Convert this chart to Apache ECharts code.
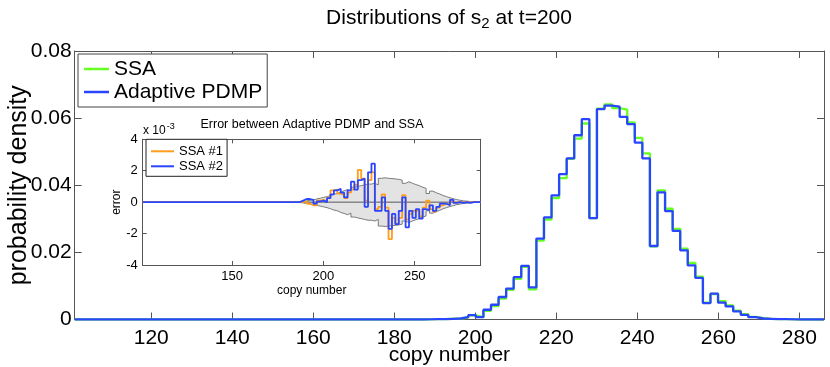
<!DOCTYPE html>
<html><head><meta charset="utf-8">
<script src="https://cdn.jsdelivr.net/npm/echarts@6/dist/echarts.min.js"></script>
<style>html,body{margin:0;padding:0;background:#fff}#c{width:830px;height:367px}</style>
</head><body><div id="c"></div>
<script>
// bin positions (copy number), 100 histogram bins
const copyNumbers = [101.10,102.97,104.84,106.71,108.57,110.44,112.31,114.18,116.05,117.92,
119.79,121.66,123.52,125.39,127.26,129.13,131.00,132.87,134.74,136.61,
138.47,140.34,142.21,144.08,145.95,147.82,149.69,151.55,153.42,155.29,
157.16,159.03,160.90,162.77,164.64,166.50,168.37,170.24,172.11,173.98,
175.85,177.72,179.59,181.45,183.32,185.19,187.06,188.93,190.80,192.67,
194.54,196.40,198.27,200.14,202.01,203.88,205.75,207.62,209.48,211.35,
213.22,215.09,216.96,218.83,220.70,222.57,224.43,226.30,228.17,230.04,
231.91,233.78,235.65,237.52,239.38,241.25,243.12,244.99,246.86,248.73,
250.60,252.46,254.33,256.20,258.07,259.94,261.81,263.68,265.55,267.41,
269.28,271.15,273.02,274.89,276.76,278.63,280.49,282.36,284.23,286.10];

const ssaDensity = [0,0,0,0,0,0,0,0,0,0, 0,0,0,0,0,0,0,0,0,0,
0,0,0,0,0,0,0,0,0,0, 0,0,0,0,0,0,0,0,0,0,
0,0,0,0,0,0,0.00005,0.0001,0.0001,0.0002,
0.0003,0.0006,0.0012,0.0007,0.0026,0.0040,0.0062,0.0088,0.0121,0.0157,
0.0090,0.0235,0.0298,0.0362,0.0421,0.0479,0.0539,0.0584,0.0302,0.0628,
0.0641,0.0630,0.0625,0.0587,0.0541,0.0495,0.0218,0.0385,0.0330,0.0270,
0.0211,0.0169,0.0128,0.0050,0.0076,0.0055,0.0042,0.0026,0.0016,0.0008,
0.0004,0.0002,0.0001,0.0001,0.00005,0,0,0,0,0];

const pdmpDensity = [0,0,0,0,0,0,0,0,0,0, 0,0,0,0,0,0,0,0,0,0,
0,0,0,0,0,0,0,0,0,0, 0,0,0,0,0,0,0,0,0,0,
0,0,0,0,0,0,0.00005,0.0001,0.0001,0.0002,
0.0003,0.0007,0.0013,0.0007,0.0029,0.0044,0.0067,0.0092,0.0126,0.0160,
0.0096,0.0241,0.0304,0.0370,0.0433,0.0480,0.0549,0.0597,0.0302,0.0627,
0.0637,0.0634,0.0604,0.0582,0.0527,0.0480,0.0219,0.0379,0.0323,0.0264,
0.0206,0.0161,0.0124,0.0049,0.0077,0.0050,0.0039,0.0024,0.0014,0.0007,
0.0003,0.0002,0.0001,0.0001,0.00005,0,0,0,0,0];

// inset: errors in units of 1e-3
const errorSSA1 = [0,0,0,0,0,0,0,0,0,0, 0,0,0,0,0,0,0,0,0,0,
0,0,0,0,0,0,0,0,0,0, 0,0,0,0,0,0,0,0,0,0,
0,0,0,0,0,0,0,0.05,-0.1,-0.2,
-0.2,0.1,0.15,0.05,0.3,0.75,0.8,0.55,0.45,0.25,
0.6,0.8,1.1,2.05,1.5,0.1,1.4,1.9,-0.45,-0.3,
0.5,-0.35,-2.35,-1.0,-1.4,-1.0,0.45,-1.1,-0.75,-0.55,
-0.55,-0.9,-0.35,0.1,-0.45,-0.6,-0.35,-0.2,-0.1,-0.1,
0.05,-0.05,0,0,0,0,0,0,0,0];

const errorSSA2 = [0,0,0,0,0,0,0,0,0,0, 0,0,0,0,0,0,0,0,0,0,
0,0,0,0,0,0,0,0,0,0, 0,0,0,0,0,0,0,0,0,0,
0,0,0,0,0,0,0.1,0.2,0.2,0.15,
-0.1,0.05,0.1,0,0.25,0.5,0.75,0.85,0.6,0.3,
0.75,1.3,0.8,1.4,1.5,-0.3,1.9,2.45,-0.55,-0.55,
0.3,-0.55,-1.7,-0.75,-1.4,-0.55,0.3,-1.6,-0.55,-1.0,
-0.45,-1.05,-0.45,-0.5,-0.2,-0.55,-0.3,-0.1,-0.1,-0.2,
0.15,-0.05,0,-0.05,0,-0.05,0,0,0,0];

const errorBand = [0,0,0,0,0,0,0,0,0,0, 0,0,0,0,0,0,0,0,0,0,
0,0,0,0,0,0,0,0,0,0, 0,0,0,0,0,0,0,0,0,0,
0,0,0,0,0,0.02,0.05,0.08,0.12,0.15,
0.2,0.25,0.3,0.35,0.42,0.5,0.55,0.65,0.72,0.8,
0.7,0.95,1.0,1.05,1.1,1.15,1.15,1.2,1.1,1.52,
1.55,1.52,1.5,1.48,1.45,1.4,1.2,1.3,1.2,1.12,
1.05,0.95,0.88,0.55,0.7,0.6,0.52,0.42,0.35,0.28,
0.22,0.16,0.12,0.08,0.06,0.04,0.02,0.01,0,0];

const mainXTicks = [120,140,160,180,200,220,240,260,280];
const insetXTicks = [150,200,250];
const xRange = [101.1, 286.1];

const FONT = "'Liberation Sans', Arial, sans-serif";
const axisCol = '#555';
const pairs = arr => copyNumbers.map((x, i) => [x, arr[i]]);

function xAx(gridIndex, position, ticks, showLabel, o) {
  return Object.assign({
    type: 'value', gridIndex, position, min: xRange[0], max: xRange[1],
    nameMoveOverlap: false,
    axisLine: {show: true, onZero: false, lineStyle: {color: axisCol, width: 1}},
    axisTick: {show: true, inside: true, length: o.tick, customValues: ticks, lineStyle: {color: axisCol}},
    axisLabel: {show: showLabel, customValues: ticks, color: '#000', fontFamily: FONT, fontSize: o.fs, margin: o.margin},
    splitLine: {show: false}
  }, o.extra || {});
}
function yAx(gridIndex, position, min, max, interval, showLabel, o) {
  return Object.assign({
    type: 'value', gridIndex, position, min, max, interval,
    nameMoveOverlap: false,
    axisLine: {show: true, onZero: false, lineStyle: {color: axisCol, width: 1}},
    axisTick: {show: true, inside: true, length: o.tick, lineStyle: {color: axisCol}},
    axisLabel: {show: showLabel, color: '#000', fontFamily: FONT, fontSize: o.fs, margin: o.margin},
    splitLine: {show: false}
  }, o.extra || {});
}

const chart = echarts.init(document.getElementById('c'));
chart.setOption({
  animation: false,
  backgroundColor: '#fff',
  title: [
    {text: '{n|Distributions of s}{s|2}{n| at t=200}', left: 449, top: 5, textAlign: 'center', padding: 0,
     textStyle: {fontWeight: 'normal', rich: {
       n: {fontFamily: FONT, fontSize: 21, color: '#000', fontWeight: 'normal'},
       s: {fontFamily: FONT, fontSize: 15, color: '#000', fontWeight: 'normal', padding: [11, 0, 0, 0]}}}},
    {text: 'Error between Adaptive PDMP and SSA', left: 312, top: 118, textAlign: 'center', padding: 0,
     textStyle: {fontFamily: FONT, fontSize: 12.5, fontWeight: 'normal', color: '#000'}},
    {text: '{n|x 10}{p|-3}', left: 143, top: 122, padding: 0,
     textStyle: {fontWeight: 'normal', rich: {
       n: {fontFamily: FONT, fontSize: 12, color: '#000', fontWeight: 'normal'},
       p: {fontFamily: FONT, fontSize: 9, color: '#000', fontWeight: 'normal', padding: [0, 0, 8, 1]}}}}
  ],
  legend: [
    {data: ['SSA', 'Adaptive PDMP'], left: 78, top: 54, orient: 'vertical', icon: 'rect',
     itemWidth: 25, itemHeight: 2.5, itemGap: 1, padding: [4, 5, 4, 6],
     borderColor: '#444', borderWidth: 1, backgroundColor: '#fff', selectedMode: false,
     textStyle: {fontFamily: FONT, fontSize: 21, color: '#000', lineHeight: 22}},
    {data: ['SSA #1', 'SSA #2'], left: 146, top: 139.3, orient: 'vertical', icon: 'rect',
     itemWidth: 23, itemHeight: 2, itemGap: 1, padding: [5, 4, 3, 5],
     borderColor: '#222', borderWidth: 1, backgroundColor: '#fff', selectedMode: false,
     textStyle: {fontFamily: FONT, fontSize: 13, color: '#000', lineHeight: 14}}
  ],
  grid: [
    {left: 74.7, top: 51, width: 749.3, height: 268.5, outerBoundsMode: 'none', containLabel: false},
    {left: 142.7, top: 139.3, width: 338, height: 125.7, outerBoundsMode: 'none', containLabel: false,
     show: true, backgroundColor: '#fff', borderWidth: 0}
  ],
  xAxis: [
    xAx(0, 'bottom', mainXTicks, true, {tick: 7, fs: 21, margin: 8,
      extra: {name: 'copy number', nameLocation: 'middle', nameGap: 25,
              nameTextStyle: {fontFamily: FONT, fontSize: 21, color: '#000'}}}),
    xAx(0, 'top', mainXTicks, false, {tick: 7, fs: 21, margin: 8}),
    xAx(1, 'bottom', insetXTicks, true, {tick: 4, fs: 13, margin: 5,
      extra: {name: 'copy number', nameLocation: 'middle', nameGap: 20,
              nameTextStyle: {fontFamily: FONT, fontSize: 12, color: '#000'}}}),
    xAx(1, 'top', insetXTicks, false, {tick: 4, fs: 13, margin: 5})
  ],
  yAxis: [
    yAx(0, 'left', 0, 0.08, 0.02, true, {tick: 7, fs: 21, margin: 3,
      extra: {name: 'probability density', nameLocation: 'middle', nameGap: 43,
              nameTextStyle: {fontFamily: FONT, fontSize: 25, color: '#000'}}}),
    yAx(0, 'right', 0, 0.08, 0.02, false, {tick: 7, fs: 21, margin: 3}),
    yAx(1, 'left', -4, 4, 2, true, {tick: 4, fs: 13, margin: 5,
      extra: {name: 'error', nameLocation: 'middle', nameGap: 20,
              nameTextStyle: {fontFamily: FONT, fontSize: 12, color: '#000'}}}),
    yAx(1, 'right', -4, 4, 2, false, {tick: 4, fs: 13, margin: 5})
  ],
  series: [
    {name: 'SSA', type: 'line', xAxisIndex: 0, yAxisIndex: 0, data: pairs(ssaDensity), step: 'end',
     symbol: 'none', color: '#66ff22', lineStyle: {width: 2.3, color: '#66ff22'}, z: 2},
    {name: 'Adaptive PDMP', type: 'line', xAxisIndex: 0, yAxisIndex: 0, data: pairs(pdmpDensity), step: 'end',
     symbol: 'none', color: '#2a45ff', lineStyle: {width: 2.3, color: '#2a45ff'}, z: 3},
    {name: 'band upper', type: 'line', xAxisIndex: 2, yAxisIndex: 2, data: pairs(errorBand), step: 'end',
     symbol: 'none', silent: true, lineStyle: {width: 1, color: '#7a7a7a'}, areaStyle: {color: '#e3e3e3', opacity: 1}, z: 2},
    {name: 'band lower', type: 'line', xAxisIndex: 2, yAxisIndex: 2, data: pairs(errorBand.map(v => -v)), step: 'end',
     symbol: 'none', silent: true, lineStyle: {width: 1, color: '#7a7a7a'}, areaStyle: {color: '#e3e3e3', opacity: 1}, z: 2},
    {name: 'zero', type: 'line', xAxisIndex: 2, yAxisIndex: 2, data: [[xRange[0], 0], [xRange[1], 0]],
     symbol: 'none', silent: true, lineStyle: {width: 1, color: '#555'}, z: 3},
    {name: 'SSA #1', type: 'line', xAxisIndex: 2, yAxisIndex: 2, data: pairs(errorSSA1), step: 'end',
     symbol: 'none', color: '#ff9d1c', lineStyle: {width: 1.8, color: '#ff9d1c'}, z: 4},
    {name: 'SSA #2', type: 'line', xAxisIndex: 2, yAxisIndex: 2, data: pairs(errorSSA2), step: 'end',
     symbol: 'none', color: '#2a45ff', lineStyle: {width: 1.8, color: '#2a45ff'}, z: 5}
  ]
});
</script></body></html>
